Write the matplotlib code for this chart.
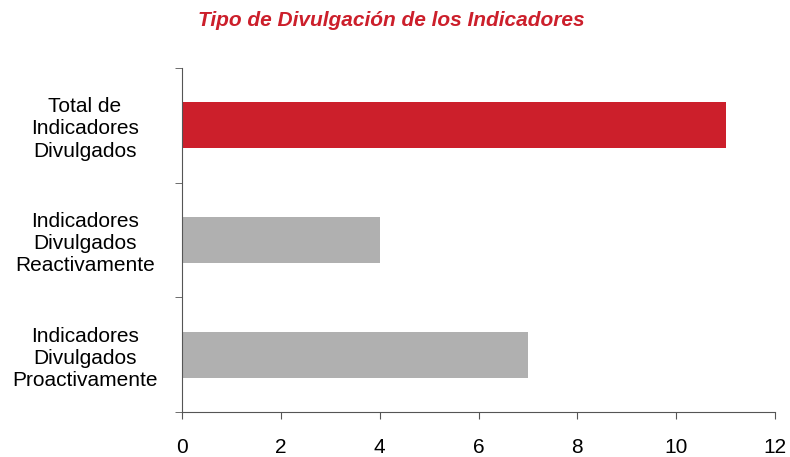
import matplotlib
matplotlib.use("Agg")
import matplotlib.pyplot as plt
import numpy as np

categories = ["Indicadores\nDivulgados\nProactivamente",
              "Indicadores\nDivulgados\nReactivamente",
              "Total de\nIndicadores\nDivulgados"]
values = [7, 4, 11]
colors = ["#B0B0B0", "#B0B0B0", "#CC1F2B"]
xticks = [0, 2, 4, 6, 8, 10, 12]

plt.rcParams['font.family'] = ['Liberation Sans', 'DejaVu Sans']

fig = plt.figure(figsize=(7.9, 4.57), dpi=100)
ax = fig.add_axes([182/790, 1-412/457, (775-182)/790, (412-68)/457])

y = np.arange(len(categories))
ax.barh(y, values, height=0.4, color=colors)
ax.set_xlim(0, 12)
ax.set_ylim(-0.5, 2.5)
ax.set_xticks(xticks)
ax.set_xticklabels([str(t) for t in xticks], fontsize=15)
ax.set_yticks(y)
ax.set_yticklabels(categories, fontsize=15, ha='center', linespacing=1.22)
ax.tick_params(axis='y', length=0, pad=70)
ax.set_yticks([-0.5, 0.5, 1.5, 2.5], minor=True)
ax.tick_params(axis='y', which='minor', length=5, direction='out', color='#555555')
ax.tick_params(axis='x', length=5, direction='out', color='#555555', pad=14)
for s in ['top', 'right']:
    ax.spines[s].set_visible(False)
ax.spines['left'].set_color('#555555')
ax.spines['bottom'].set_color('#555555')

fig.text(391/790, 1-20/457, "Tipo de Divulgación de los Indicadores",
         color="#CC1F2B", fontsize=15, fontweight='bold', fontstyle='italic',
         ha='center', va='center')

fig.savefig("out.png", dpi=100)
